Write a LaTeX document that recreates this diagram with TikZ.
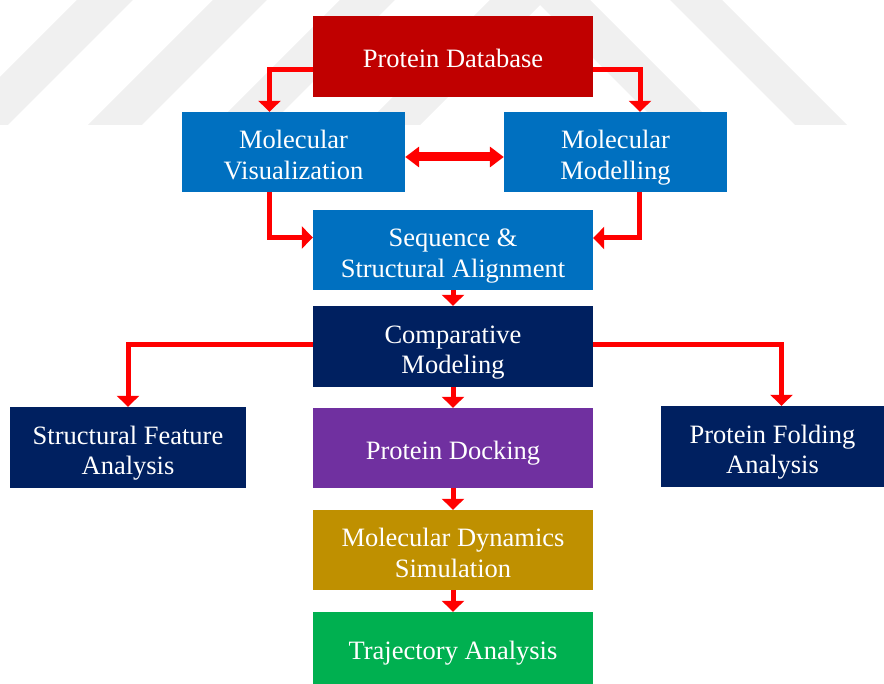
\documentclass[tikz,border=0pt]{standalone}
\usepackage{fontspec}
\setmainfont{Liberation Serif}
\usetikzlibrary{arrows.meta}
\definecolor{pdred}{RGB}{192,0,0}
\definecolor{midblue}{RGB}{0,112,192}
\definecolor{navy}{RGB}{0,32,96}
\definecolor{purp}{RGB}{112,48,160}
\definecolor{gold}{RGB}{191,144,0}
\definecolor{grn}{RGB}{0,176,80}
\definecolor{arrred}{RGB}{255,0,0}
\definecolor{wm}{RGB}{240,240,240}
\tikzset{
  box/.style={rectangle, inner sep=0pt, text=white, align=center,
    text depth=0pt, text height=23pt,
    font=\fontsize{26.5}{30.5}\selectfont},
  twoline/.style={text height=54.5pt},
  arr/.style={draw=arrred, line width=5pt, -{Triangle[width=22pt,length=11pt]}},
  darr/.style={draw=arrred, line width=9pt, {Triangle[width=20pt,length=14pt]}-{Triangle[width=20pt,length=14pt]}},
  wmband/.style={fill=wm, draw=none}
}
\begin{document}
\begin{tikzpicture}[x=1pt,y=-1pt]
\useasboundingbox (0,0) rectangle (884,684);
\begin{scope}
\clip (0,0) rectangle (884,684);
\fill[wmband] (77,0) -- (133,0) -- (8,125) -- (-48,125) -- cycle;
\fill[wmband] (213,0) -- (267,0) -- (142,125) -- (88,125) -- cycle;
\fill[wmband] (340,0) -- (395,0) -- (270,125) -- (215,125) -- cycle;
\fill[wmband] (540,-50) -- (715,125) -- (660,125) -- (540,5) -- (420,125) -- (365,125) -- cycle;
\fill[wmband] (670,0) -- (722,0) -- (847,125) -- (795,125) -- cycle;
\end{scope}

\node[box, fill=pdred, minimum width=280pt, minimum height=81pt] (pd) at (453,56.5) {Protein Database};
\node[box, twoline, fill=midblue, minimum width=223pt, minimum height=80pt] (mv) at (293.5,152) {Molecular\\Visualization};
\node[box, twoline, fill=midblue, minimum width=223pt, minimum height=80pt] (mm) at (615.5,152) {Molecular\\Modelling};
\node[box, twoline, fill=midblue, minimum width=280pt, minimum height=80pt] (sa) at (453,250) {Sequence \&\\Structural Alignment};
\node[box, twoline, fill=navy, minimum width=280pt, minimum height=81pt] (cm) at (453,346.5) {Comparative\\Modeling};
\node[box, twoline, fill=navy, minimum width=236pt, minimum height=81pt] (sf) at (128,447.5) {Structural Feature\\Analysis};
\node[box, fill=purp, minimum width=280pt, minimum height=80pt] (dk) at (453,448) {Protein Docking};
\node[box, twoline, fill=navy, minimum width=223pt, minimum height=81pt] (pf) at (772.5,446.5) {Protein Folding\\Analysis};
\node[box, twoline, fill=gold, minimum width=280pt, minimum height=80pt] (md) at (453,550) {Molecular Dynamics\\Simulation};
\node[box, fill=grn, minimum width=280pt, minimum height=72pt] (ta) at (453,648) {Trajectory Analysis};

\draw[arr] ([yshift=-13.5pt]pd.west) -| ([xshift=-24pt]mv.north);
\draw[arr] ([yshift=-13.5pt]pd.east) -| ([xshift=24.5pt]mm.north);
\draw[darr] ([yshift=-5pt]mv.east) -- ([yshift=-5pt]mm.west);
\draw[arr] ([xshift=-24pt]mv.south) |- ([yshift=12.5pt]sa.west);
\draw[arr] ([xshift=24pt]mm.south) |- ([yshift=12pt]sa.east);
\draw[arr] (sa.south) -- (cm.north);
\draw[arr] ([yshift=1.5pt]cm.west) -| (sf.north);
\draw[arr] ([yshift=1.5pt]cm.east) -| ([xshift=9pt]pf.north);
\draw[arr] (cm.south) -- (dk.north);
\draw[arr] (dk.south) -- (md.north);
\draw[arr] (md.south) -- (ta.north);
\end{tikzpicture}
\end{document}
